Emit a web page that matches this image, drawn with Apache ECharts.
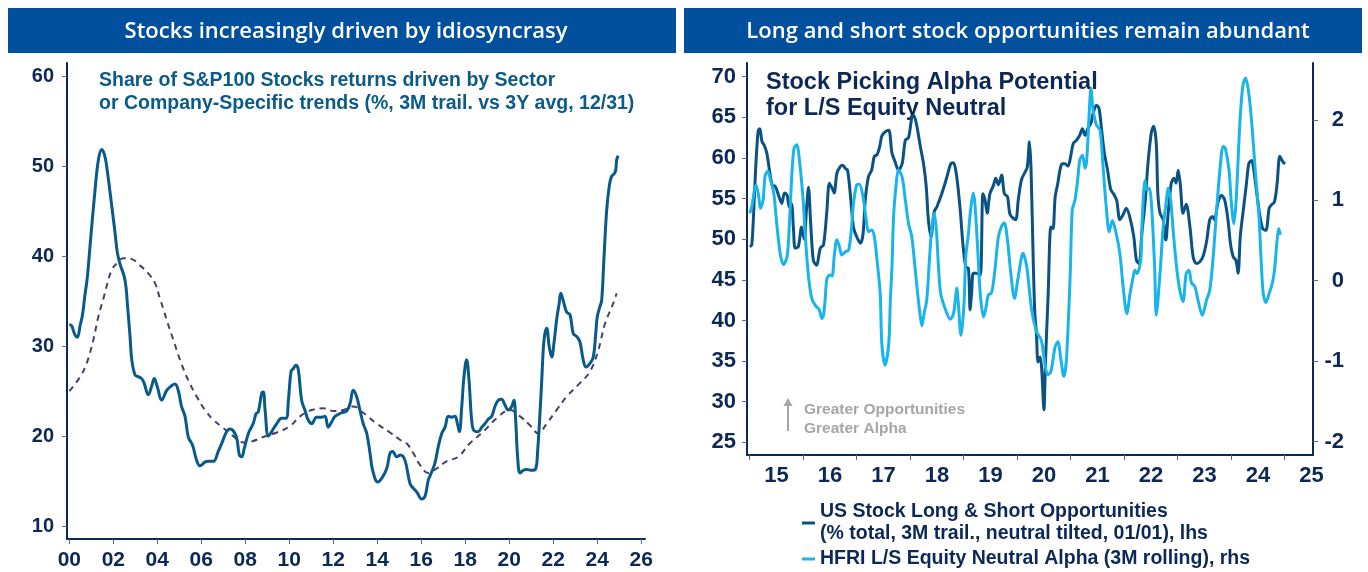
<!DOCTYPE html>
<html>
<head>
<meta charset="utf-8">
<script src="https://cdn.jsdelivr.net/npm/echarts@6/dist/echarts.min.js"></script>
<style>
  html, body { margin: 0; padding: 0; background: #fff; }
  #chart { width: 1368px; height: 572px; }
</style>
</head>
<body>
<div id="chart"></div>
<script>
// left panel: share of S&P100 returns driven by sector / company trends
const shareYears = [2000.0, 2000.1, 2000.25, 2000.36, 2000.5, 2000.6, 2000.7, 2000.82, 2000.94, 2001.17, 2001.32, 2001.47, 2001.6, 2001.7, 2001.93, 2002.08, 2002.18, 2002.3, 2002.53, 2002.65, 2002.76, 2002.84, 2002.99, 2003.15, 2003.29, 2003.4, 2003.59, 2003.75, 2003.86, 2004.0, 2004.2, 2004.43, 2004.65, 2004.8, 2004.95, 2005.1, 2005.26, 2005.41, 2005.6, 2005.79, 2005.94, 2006.17, 2006.32, 2006.55, 2006.77, 2006.93, 2007.15, 2007.3, 2007.45, 2007.61, 2007.73, 2007.84, 2007.95, 2008.14, 2008.36, 2008.49, 2008.59, 2008.75, 2008.82, 2008.9, 2009.05, 2009.2, 2009.43, 2009.65, 2009.85, 2009.96, 2010.08, 2010.18, 2010.3, 2010.41, 2010.56, 2010.71, 2010.86, 2011.02, 2011.24, 2011.47, 2011.62, 2011.77, 2011.93, 2012.08, 2012.38, 2012.61, 2012.76, 2012.91, 2013.06, 2013.21, 2013.36, 2013.52, 2013.67, 2013.79, 2014.02, 2014.2, 2014.43, 2014.58, 2014.7, 2014.88, 2015.05, 2015.26, 2015.49, 2015.64, 2015.79, 2016.02, 2016.17, 2016.32, 2016.47, 2016.62, 2016.77, 2016.93, 2017.08, 2017.23, 2017.38, 2017.53, 2017.64, 2017.73, 2017.84, 2017.94, 2018.06, 2018.17, 2018.29, 2018.4, 2018.59, 2018.75, 2018.9, 2019.05, 2019.2, 2019.35, 2019.5, 2019.65, 2019.8, 2019.95, 2020.11, 2020.21, 2020.29, 2020.38, 2020.49, 2020.64, 2020.79, 2021.02, 2021.21, 2021.29, 2021.36, 2021.47, 2021.58, 2021.7, 2021.82, 2021.93, 2022.03, 2022.15, 2022.27, 2022.34, 2022.45, 2022.61, 2022.76, 2022.91, 2023.06, 2023.21, 2023.36, 2023.49, 2023.67, 2023.82, 2023.93, 2024.0, 2024.12, 2024.2, 2024.3, 2024.43, 2024.55, 2024.65, 2024.77, 2024.84, 2024.88, 2024.95];
const shareValues = [32.4, 32.3, 31.3, 31.0, 32.4, 33.5, 35.5, 37.7, 41.1, 47.4, 50.7, 51.9, 51.3, 50.0, 45.6, 42.6, 40.5, 39.2, 37.4, 34.4, 31.1, 28.5, 26.8, 26.6, 26.4, 25.9, 24.6, 25.6, 26.4, 25.5, 24.0, 25.1, 25.6, 25.8, 25.1, 23.3, 22.2, 19.9, 19.0, 17.3, 16.7, 17.1, 17.2, 17.2, 18.3, 19.2, 20.5, 20.8, 20.6, 19.8, 17.9, 17.7, 18.6, 20.3, 21.4, 22.5, 22.7, 24.8, 24.9, 22.9, 20.0, 20.5, 21.4, 22.0, 22.0, 24.0, 27.2, 27.5, 27.9, 27.4, 24.0, 22.9, 21.8, 21.4, 22.1, 22.1, 22.2, 21.0, 21.6, 22.2, 22.6, 22.8, 23.6, 25.1, 24.4, 22.9, 21.4, 20.3, 18.1, 16.2, 14.9, 15.3, 16.4, 18.1, 18.3, 17.7, 17.9, 17.3, 14.7, 14.2, 13.8, 13.0, 13.3, 15.1, 16.0, 17.0, 18.8, 20.3, 21.0, 22.2, 22.1, 22.2, 21.4, 20.5, 23.3, 26.6, 28.5, 26.2, 21.8, 20.6, 20.5, 21.0, 21.4, 21.9, 22.2, 23.3, 24.0, 24.1, 23.5, 22.9, 23.3, 24.0, 21.8, 17.7, 15.9, 16.2, 16.3, 16.2, 16.4, 18.4, 21.0, 25.9, 30.7, 32.0, 29.9, 28.8, 30.3, 32.9, 34.8, 35.9, 35.1, 33.8, 33.5, 31.4, 31.1, 30.5, 28.5, 27.7, 28.1, 28.8, 31.4, 33.3, 34.4, 35.1, 39.6, 45.2, 47.9, 48.9, 49.2, 49.6, 50.7, 51.2];

// 3Y average (dashed)
const avgYears = [2000.0, 2000.49, 2000.79, 2001.09, 2001.32, 2001.55, 2001.93, 2002.23, 2002.45, 2002.84, 2003.21, 2003.59, 2003.9, 2004.12, 2004.27, 2004.43, 2004.73, 2005.03, 2005.41, 2005.79, 2006.17, 2006.55, 2007.0, 2007.45, 2007.91, 2008.29, 2008.82, 2009.43, 2010.03, 2010.49, 2011.02, 2011.55, 2012.0, 2012.45, 2012.91, 2013.36, 2013.97, 2014.58, 2015.03, 2015.33, 2015.64, 2015.94, 2016.32, 2016.7, 2017.15, 2017.68, 2018.21, 2018.82, 2019.43, 2020.03, 2020.49, 2020.94, 2021.32, 2021.7, 2022.15, 2022.61, 2023.21, 2023.67, 2024.05, 2024.35, 2024.73, 2024.88];
const avgValues = [25.0, 26.6, 28.1, 30.7, 33.3, 35.3, 38.5, 39.4, 39.8, 39.7, 39.0, 38.1, 37.0, 35.3, 34.2, 32.9, 30.7, 28.5, 26.2, 24.4, 22.9, 21.8, 20.9, 20.0, 19.3, 19.4, 19.9, 20.4, 21.1, 22.2, 22.9, 23.1, 22.8, 22.9, 23.3, 22.6, 21.4, 20.4, 19.6, 19.2, 18.1, 16.8, 15.9, 16.4, 17.2, 17.7, 19.2, 20.5, 22.0, 22.9, 22.2, 21.2, 20.3, 21.4, 22.9, 24.4, 25.9, 27.2, 29.6, 32.5, 34.8, 35.9];

const leftYTicks = [10, 20, 30, 40, 50, 60];
const leftXTicks = [2000, 2002, 2004, 2006, 2008, 2010, 2012, 2014, 2016, 2018, 2020, 2022, 2024, 2026];

// right panel: US stock long & short opportunities (lhs)
const oppYears = [2015.0, 2015.04, 2015.09, 2015.12, 2015.16, 2015.19, 2015.23, 2015.27, 2015.32, 2015.37, 2015.42, 2015.48, 2015.54, 2015.6, 2015.65, 2015.7, 2015.74, 2015.78, 2015.82, 2015.85, 2015.91, 2015.97, 2016.02, 2016.06, 2016.1, 2016.14, 2016.19, 2016.25, 2016.32, 2016.38, 2016.44, 2016.49, 2016.54, 2016.58, 2016.63, 2016.69, 2016.74, 2016.79, 2016.83, 2016.88, 2016.94, 2017.0, 2017.07, 2017.12, 2017.16, 2017.22, 2017.28, 2017.33, 2017.38, 2017.43, 2017.47, 2017.53, 2017.6, 2017.66, 2017.72, 2017.78, 2017.85, 2017.91, 2017.97, 2018.03, 2018.07, 2018.12, 2018.19, 2018.25, 2018.3, 2018.34, 2018.39, 2018.45, 2018.5, 2018.59, 2018.68, 2018.76, 2018.81, 2018.87, 2018.93, 2018.99, 2019.04, 2019.09, 2019.12, 2019.15, 2019.18, 2019.24, 2019.31, 2019.36, 2019.4, 2019.44, 2019.49, 2019.55, 2019.6, 2019.65, 2019.71, 2019.76, 2019.82, 2019.87, 2019.97, 2020.02, 2020.08, 2020.15, 2020.19, 2020.23, 2020.26, 2020.3, 2020.33, 2020.36, 2020.39, 2020.43, 2020.46, 2020.5, 2020.53, 2020.58, 2020.63, 2020.67, 2020.71, 2020.76, 2020.8, 2020.84, 2020.89, 2020.95, 2021.0, 2021.05, 2021.11, 2021.17, 2021.22, 2021.27, 2021.32, 2021.38, 2021.42, 2021.48, 2021.53, 2021.58, 2021.63, 2021.69, 2021.75, 2021.81, 2021.86, 2021.92, 2021.98, 2022.04, 2022.11, 2022.18, 2022.23, 2022.28, 2022.33, 2022.39, 2022.45, 2022.51, 2022.55, 2022.6, 2022.63, 2022.67, 2022.73, 2022.78, 2022.82, 2022.88, 2022.93, 2022.97, 2023.01, 2023.05, 2023.1, 2023.16, 2023.23, 2023.29, 2023.35, 2023.41, 2023.47, 2023.54, 2023.6, 2023.65, 2023.69, 2023.75, 2023.82, 2023.88, 2023.94, 2023.99, 2024.04, 2024.09, 2024.13, 2024.17, 2024.22, 2024.28, 2024.33, 2024.38, 2024.44, 2024.48, 2024.53, 2024.59, 2024.65, 2024.71, 2024.75, 2024.81, 2024.86, 2024.91, 2024.97, 2025.01];
const oppValues = [49.1, 49.3, 55.6, 59.7, 63.4, 63.6, 62.0, 61.6, 60.6, 58.5, 56.7, 56.5, 55.4, 54.4, 55.7, 55.4, 54.0, 54.4, 51.1, 48.9, 49.1, 51.5, 50.0, 53.5, 56.4, 52.0, 47.4, 46.8, 48.9, 49.3, 53.2, 56.9, 56.3, 55.7, 58.1, 58.9, 59.1, 58.7, 58.5, 55.6, 51.5, 50.3, 49.5, 50.7, 54.8, 57.7, 58.5, 60.2, 60.4, 61.4, 62.7, 63.2, 63.4, 60.6, 59.5, 58.5, 59.3, 62.2, 62.5, 64.9, 65.2, 64.1, 61.4, 59.3, 56.5, 52.4, 50.3, 53.4, 54.0, 55.6, 57.5, 59.3, 59.4, 57.7, 54.0, 49.1, 46.6, 46.4, 41.3, 43.5, 45.8, 45.8, 45.6, 55.6, 54.8, 53.2, 55.6, 56.5, 57.5, 56.7, 57.9, 55.6, 55.2, 53.0, 52.4, 54.8, 57.3, 58.3, 58.9, 62.0, 58.5, 47.4, 40.9, 38.4, 34.9, 35.5, 33.9, 29.0, 35.1, 43.3, 51.5, 51.3, 55.2, 56.9, 58.5, 59.3, 59.3, 59.0, 60.2, 61.8, 62.2, 62.8, 63.6, 62.8, 63.6, 64.3, 65.5, 66.5, 66.1, 63.4, 60.6, 58.5, 56.1, 55.5, 54.8, 52.4, 53.0, 53.8, 52.6, 50.3, 47.4, 47.0, 50.7, 54.4, 59.7, 63.2, 63.9, 61.8, 55.6, 53.2, 52.4, 49.9, 53.0, 56.9, 57.5, 56.9, 58.5, 56.7, 53.2, 54.3, 51.5, 47.8, 47.0, 47.2, 47.8, 49.7, 52.4, 52.8, 52.4, 54.4, 55.4, 54.8, 52.4, 49.3, 47.8, 47.4, 45.8, 50.3, 53.2, 56.5, 59.3, 59.7, 57.7, 55.6, 53.2, 51.3, 51.1, 53.8, 54.2, 54.6, 56.9, 60.2, 59.5, 59.3];

// HFRI L/S equity neutral alpha (rhs)
const alphaYears = [2015.0, 2015.04, 2015.09, 2015.12, 2015.17, 2015.2, 2015.25, 2015.29, 2015.34, 2015.39, 2015.45, 2015.5, 2015.57, 2015.63, 2015.7, 2015.74, 2015.79, 2015.83, 2015.88, 2015.93, 2016.0, 2016.04, 2016.1, 2016.16, 2016.23, 2016.3, 2016.35, 2016.38, 2016.41, 2016.44, 2016.49, 2016.54, 2016.58, 2016.63, 2016.68, 2016.72, 2016.79, 2016.85, 2016.9, 2016.94, 2017.0, 2017.05, 2017.12, 2017.18, 2017.22, 2017.28, 2017.33, 2017.38, 2017.44, 2017.47, 2017.53, 2017.6, 2017.63, 2017.66, 2017.69, 2017.74, 2017.78, 2017.85, 2017.91, 2017.97, 2018.03, 2018.09, 2018.14, 2018.19, 2018.22, 2018.26, 2018.31, 2018.36, 2018.4, 2018.45, 2018.49, 2018.53, 2018.57, 2018.65, 2018.75, 2018.81, 2018.85, 2018.87, 2018.9, 2018.95, 2018.98, 2019.01, 2019.04, 2019.09, 2019.13, 2019.18, 2019.21, 2019.26, 2019.31, 2019.37, 2019.41, 2019.46, 2019.52, 2019.55, 2019.59, 2019.65, 2019.71, 2019.76, 2019.82, 2019.88, 2019.95, 2020.02, 2020.11, 2020.18, 2020.27, 2020.36, 2020.45, 2020.51, 2020.57, 2020.63, 2020.71, 2020.76, 2020.82, 2020.87, 2020.92, 2020.99, 2021.03, 2021.08, 2021.13, 2021.17, 2021.22, 2021.27, 2021.3, 2021.34, 2021.38, 2021.42, 2021.48, 2021.55, 2021.61, 2021.67, 2021.72, 2021.78, 2021.85, 2021.92, 2021.98, 2022.05, 2022.11, 2022.17, 2022.2, 2022.24, 2022.31, 2022.34, 2022.39, 2022.42, 2022.47, 2022.51, 2022.57, 2022.6, 2022.67, 2022.73, 2022.79, 2022.82, 2022.87, 2022.92, 2022.98, 2023.04, 2023.1, 2023.16, 2023.21, 2023.26, 2023.32, 2023.38, 2023.46, 2023.54, 2023.6, 2023.66, 2023.72, 2023.79, 2023.85, 2023.89, 2023.96, 2024.0, 2024.05, 2024.09, 2024.13, 2024.17, 2024.22, 2024.27, 2024.33, 2024.39, 2024.45, 2024.52, 2024.56, 2024.6, 2024.65, 2024.71, 2024.77, 2024.81, 2024.86, 2024.89, 2024.92];
const alphaValues = [0.84, 0.92, 1.13, 1.19, 1.04, 0.90, 1.00, 1.31, 1.36, 1.25, 1.09, 0.75, 0.34, 0.20, 0.30, 0.67, 1.34, 1.65, 1.69, 1.50, 1.00, 0.55, 0.05, -0.22, -0.31, -0.36, -0.47, -0.43, -0.24, 0.01, 0.07, 0.06, 0.30, 0.51, 0.42, 0.32, 0.36, 0.38, 0.63, 0.96, 1.19, 1.20, 1.04, 0.75, 0.61, 0.63, 0.55, 0.26, -0.16, -0.78, -1.05, -0.78, -0.24, 0.17, 0.80, 1.21, 1.38, 1.29, 1.00, 0.71, 0.55, 0.17, -0.16, -0.45, -0.56, -0.41, -0.24, 0.26, 0.63, 0.84, 0.63, 0.17, -0.16, -0.34, -0.48, -0.41, -0.20, -0.09, -0.28, -0.68, -0.53, -0.24, 0.30, 0.59, 0.88, 1.09, 0.96, 0.42, -0.16, -0.45, -0.36, -0.18, -0.15, -0.05, 0.17, 0.55, 0.68, 0.72, 0.50, 0.10, -0.22, 0.05, 0.34, 0.17, -0.36, -0.63, -0.74, -0.99, -1.17, -1.13, -0.82, -0.76, -0.99, -1.19, -0.99, 0.05, 0.88, 1.00, 1.25, 1.50, 1.56, 1.40, 1.50, 2.00, 2.39, 2.12, 1.94, 1.87, 1.38, 0.88, 0.61, 0.75, 0.59, 0.34, -0.07, -0.41, -0.16, 0.05, 0.13, 0.09, 0.26, 0.80, 1.25, 1.13, 1.15, 0.96, 0.17, -0.43, 0.09, 0.67, 1.00, 1.15, 1.00, 0.59, 0.17, -0.12, -0.26, 0.09, 0.13, -0.03, -0.07, -0.24, -0.43, -0.24, -0.12, 0.26, 0.80, 1.38, 1.67, 1.65, 1.38, 1.00, 0.71, 0.96, 1.50, 2.04, 2.43, 2.52, 2.33, 1.92, 1.38, 0.80, 0.26, -0.16, -0.27, -0.16, -0.03, 0.13, 0.51, 0.65, 0.57];

const rightLhsTicks = [25, 30, 35, 40, 45, 50, 55, 60, 65, 70];
const rightRhsTicks = [-2, -1, 0, 1, 2];
const rightXTicks = [2015, 2016, 2017, 2018, 2019, 2020, 2021, 2022, 2023, 2024, 2025];
const rightXLabels = [2015.5, 2016.5, 2017.5, 2018.5, 2019.5, 2020.5, 2021.5, 2022.5, 2023.5, 2024.5, 2025.5];

const oppName = 'US Stock Long & Short Opportunities\n(% total, 3M trail., neutral tilted, 01/01), lhs';
const alphaName = 'HFRI L/S Equity Neutral Alpha (3M rolling), rhs';

const zip = (xs, ys) => xs.map((x, i) => [x, ys[i]]);
const navy = '#0c2857';
const axisFont = 'Liberation Sans, Arial, sans-serif';

function valueAxis(extra) {
  return Object.assign({
    type: 'value',
    splitLine: { show: false },
    axisLine: { show: true, onZero: false, lineStyle: { color: navy, width: 2 } },
  }, extra);
}

const myChart = echarts.init(document.getElementById('chart'));

const option = {
  animation: false,
  grid: [
    { left: 67, top: 63, width: 578, height: 476 },
    { left: 747, top: 63, width: 566, height: 392 },
  ],
  xAxis: [
    valueAxis({
      gridIndex: 0, min: 1999.895, max: 2026.17,
      axisTick: { show: true, length: 5, customValues: leftXTicks, lineStyle: { color: '#5a6785' } },
      axisLabel: {
        customValues: leftXTicks, margin: 11, color: navy, fontSize: 21, fontWeight: 'bold', fontFamily: axisFont,
        formatter: (v) => String(v % 100).padStart(2, '0'),
      },
    }),
    valueAxis({
      gridIndex: 1, min: 2014.95, max: 2025.53,
      axisTick: { show: true, length: 5, customValues: rightXTicks, lineStyle: { color: '#5a6785' } },
      axisLabel: {
        customValues: rightXLabels, margin: 10, color: navy, fontSize: 22, fontWeight: 'bold', fontFamily: axisFont,
        formatter: (v) => String(Math.floor(v) % 100),
      },
    }),
  ],
  yAxis: [
    valueAxis({
      gridIndex: 0, min: 8.553, max: 61.52,
      axisTick: { show: true, length: 5, customValues: leftYTicks, lineStyle: { color: '#5a6785' } },
      axisLabel: { customValues: leftYTicks, margin: 13, color: navy, fontSize: 20, fontWeight: 'bold', fontFamily: axisFont },
    }),
    valueAxis({
      gridIndex: 1, min: 23.44, max: 71.69,
      axisTick: { show: true, length: 5, customValues: rightLhsTicks, lineStyle: { color: '#5a6785' } },
      axisLabel: { customValues: rightLhsTicks, margin: 11, color: navy, fontSize: 22, fontWeight: 'bold', fontFamily: axisFont },
    }),
    valueAxis({
      gridIndex: 1, position: 'right', min: -2.168, max: 2.708,
      axisTick: { show: true, length: 5, customValues: rightRhsTicks, lineStyle: { color: '#5a6785' } },
      axisLabel: {
        customValues: rightRhsTicks, margin: 11,
        formatter: (v) => '{n|' + v + '}',
        rich: { n: { width: 20, align: 'right', color: navy, fontSize: 22, fontWeight: 'bold', fontFamily: axisFont } },
      },
    }),
  ],
  legend: {
    data: [oppName, alphaName],
    orient: 'vertical',
    left: 802,
    top: 501,
    padding: 0,
    itemGap: 3,
    itemWidth: 13,
    itemHeight: 3,
    icon: 'rect',
    textStyle: { color: navy, fontSize: 19.5, fontWeight: 'bold', fontFamily: axisFont, lineHeight: 22 },
  },
  graphic: [
    { type: 'rect', shape: { x: 8, y: 8, width: 668, height: 45 }, style: { fill: '#00509e' } },
    { type: 'text', x: 346, y: 32, style: { text: 'Stocks increasingly driven by idiosyncrasy', fill: '#fff', font: '600 22px "Open Sans", sans-serif', textAlign: 'center', textVerticalAlign: 'middle' } },
    { type: 'rect', shape: { x: 684, y: 8, width: 678, height: 45 }, style: { fill: '#00509e' } },
    { type: 'text', x: 1028, y: 32, style: { text: 'Long and short stock opportunities remain abundant', fill: '#fff', font: '600 22px "Open Sans", sans-serif', textAlign: 'center', textVerticalAlign: 'middle' } },
    { type: 'text', x: 99, y: 69, style: { text: 'Share of S&P100 Stocks returns driven by Sector\nor Company-Specific trends (%, 3M trail. vs 3Y avg, 12/31)', fill: '#0a5a8a', font: 'bold 19.5px "Liberation Sans", Arial, sans-serif', lineHeight: 23 } },
    { type: 'text', x: 766, y: 70, style: { text: 'Stock Picking Alpha Potential\nfor L/S Equity Neutral', fill: navy, font: 'bold 23.5px "Liberation Sans", Arial, sans-serif', lineHeight: 26 } },
    { type: 'text', x: 804, y: 400, style: { text: 'Greater Opportunities\nGreater Alpha', fill: '#a6a6a6', font: 'bold 15.5px "Liberation Sans", Arial, sans-serif', lineHeight: 19 } },
    { type: 'line', shape: { x1: 788, y1: 431, x2: 788, y2: 405 }, style: { stroke: '#a6a6a6', lineWidth: 2 } },
    { type: 'polygon', shape: { points: [[783.5, 406], [792.5, 406], [788, 398]] }, style: { fill: '#a6a6a6' } },
  ],
  series: [
    {
      name: '3Y avg', type: 'line', xAxisIndex: 0, yAxisIndex: 0, data: zip(avgYears, avgValues),
      showSymbol: false, smooth: 0.4, lineStyle: { color: '#4a3f6b', width: 2, type: [6, 5] },
    },
    {
      name: 'Share', type: 'line', xAxisIndex: 0, yAxisIndex: 0, data: zip(shareYears, shareValues),
      showSymbol: false, smooth: 0.4, lineStyle: { color: '#085a8a', width: 3 },
    },
    {
      name: oppName, type: 'line', xAxisIndex: 1, yAxisIndex: 1, data: zip(oppYears, oppValues),
      showSymbol: false, smooth: 0.3, color: '#0b5282', lineStyle: { color: '#0b5282', width: 3 },
    },
    {
      name: alphaName, type: 'line', xAxisIndex: 1, yAxisIndex: 2, data: zip(alphaYears, alphaValues),
      showSymbol: false, smooth: 0.3, color: '#18b4ea', lineStyle: { color: '#18b4ea', width: 3 },
    },
  ],
};

myChart.setOption(option);
</script>
</body>
</html>
